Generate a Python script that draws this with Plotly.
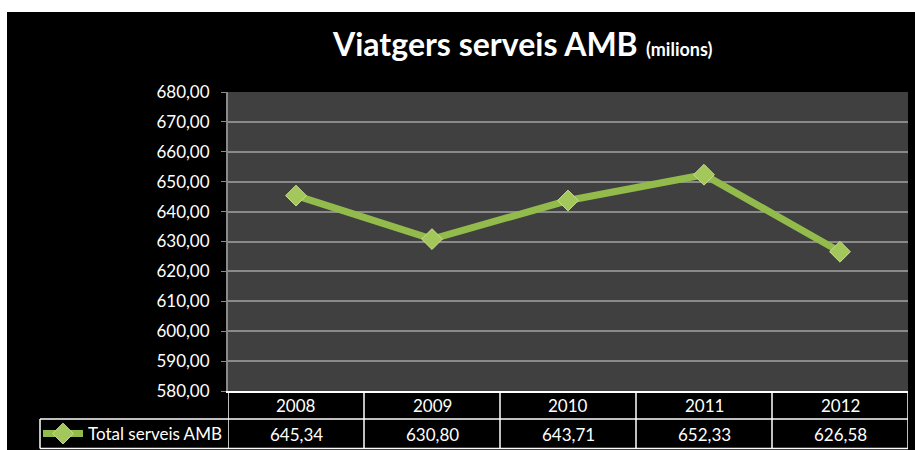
import plotly.graph_objects as go

years = ["2008", "2009", "2010", "2011", "2012"]
values = [645.34, 630.80, 643.71, 652.33, 626.58]
series_name = "Total serveis AMB"
title_main = "Viatgers serveis AMB"
title_sub = "(milions)"

W, H = 915, 450
FONT = "Lato"
GREEN = "#92bb4c"

def fmt(v):
    return f"{v:.2f}".replace(".", ",")

# pixel layout helpers (positions only)
px_l, px_r = 228, 908
px_top, px_bot = 92, 391
row_mid_y, tbl_bot, tbl_left = 419, 448.5, 40

def py(p):
    return 1 - p / H

fig = go.Figure()

fig.add_trace(go.Scatter(
    x=years, y=values, mode="lines+markers", name=series_name,
    line=dict(color=GREEN, width=7),
    marker=dict(symbol="diamond", size=16, color="#a3c75a",
                line=dict(color="#c8df8f", width=1)),
    showlegend=True,
))

TL = dict(color="white", width=1.5)
shapes = [
    # white frame strips (outside the black chart area)
    dict(type="rect", xref="paper", yref="paper", x0=0, x1=1, y0=py(12), y1=1,
         fillcolor="white", line=dict(width=0), layer="above"),
    dict(type="rect", xref="paper", yref="paper", x0=0, x1=7 / W, y0=0, y1=1,
         fillcolor="white", line=dict(width=0), layer="above"),
    # data table grid
    dict(type="line", xref="paper", yref="paper", x0=tbl_left / W, x1=px_r / W,
         y0=py(row_mid_y), y1=py(row_mid_y), line=TL),
    dict(type="line", xref="paper", yref="paper", x0=tbl_left / W, x1=px_r / W,
         y0=py(tbl_bot), y1=py(tbl_bot), line=TL),
    dict(type="line", xref="paper", yref="paper", x0=tbl_left / W, x1=tbl_left / W,
         y0=py(tbl_bot), y1=py(row_mid_y), line=TL),
]
for i in range(len(years) + 1):
    shapes.append(dict(type="line", xref="x", yref="paper",
                       x0=i - 0.5, x1=i - 0.5, y0=py(tbl_bot), y1=py(px_bot), line=TL))

annotations = [dict(
    xref="paper", yref="paper", x=522 / W, y=py(44),
    xanchor="center", yanchor="middle", showarrow=False,
    text=f"<b>{title_main}</b> <b><span style='font-size:18px'>{title_sub}</span></b>",
    font=dict(family=FONT, size=32, color="white"),
)]
for i, (yr, v) in enumerate(zip(years, values)):
    annotations.append(dict(xref="x", yref="paper", x=i, y=py(405), text=yr,
                            showarrow=False, xanchor="center", yanchor="middle",
                            font=dict(family=FONT, size=17, color="white")))
    annotations.append(dict(xref="x", yref="paper", x=i, y=py(434), text=fmt(v),
                            showarrow=False, xanchor="center", yanchor="middle",
                            font=dict(family=FONT, size=17, color="white")))

fig.update_layout(
    width=W, height=H,
    margin=dict(l=0, r=0, t=0, b=0, pad=0, autoexpand=False),
    paper_bgcolor="black",
    plot_bgcolor="#404040",
    separators=", ",
    font=dict(family=FONT, color="white"),
    showlegend=True,
    legend=dict(
        x=38 / W, y=py(434), xanchor="left", yanchor="middle",
        bgcolor="rgba(0,0,0,0)", font=dict(family=FONT, size=17, color="white"),
        itemwidth=40,
    ),
    xaxis=dict(
        domain=[px_l / W, px_r / W],
        type="category", range=[-0.5, len(years) - 0.5],
        showticklabels=False, showgrid=False, zeroline=False,
        showline=True, linecolor="white", linewidth=2,
    ),
    yaxis=dict(
        domain=[py(px_bot), py(px_top)],
        range=[580, 680], dtick=10, tick0=580, tickformat=".2f",
        showgrid=True, gridcolor="#8a8a8a", gridwidth=2,
        showline=True, linecolor="#8a8a8a", linewidth=2,
        ticks="outside", ticklen=5, tickcolor="#8a8a8a",
        ticklabelstandoff=8,
        tickfont=dict(family=FONT, size=17, color="white"),
        zeroline=False,
    ),
    shapes=shapes,
    annotations=annotations,
)

fig.write_html(
    "out.html",
    config={"displayModeBar": False},
    post_script="document.body.style.margin='0';document.body.style.overflow='hidden';",
)
